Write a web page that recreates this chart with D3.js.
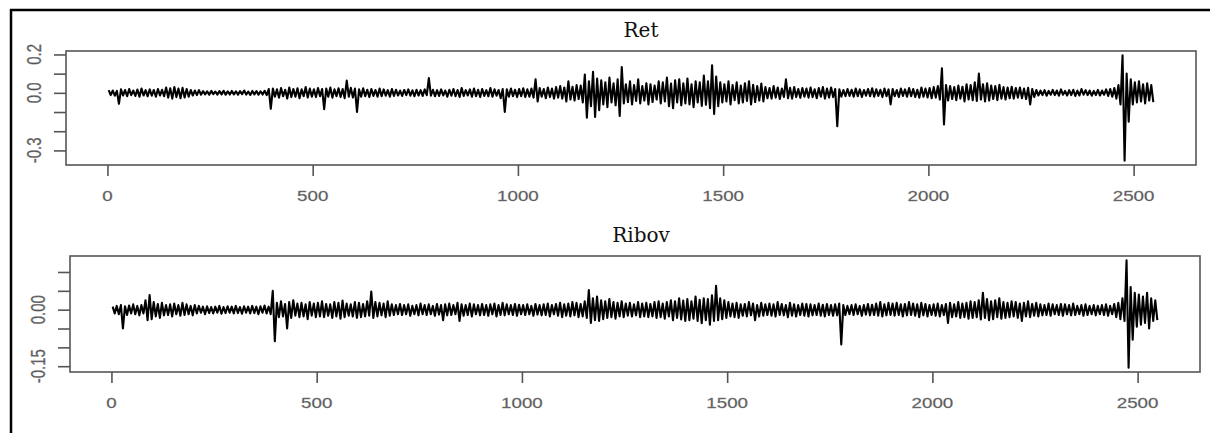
<!DOCTYPE html>
<html>
<head>
<meta charset="utf-8">
<script src="https://cdn.jsdelivr.net/npm/d3@7"></script>
<style>
  body { margin: 0; background: #fff; }
  svg { display: block; }
</style>
</head>
<body>
<div id="my_dataviz"></div>
<script>
var blockSize = 10;

var retHi = [
  14, 12, 10, 18, 15, 20, 12, 17, 22, 14,
  18, 15, 20, 16, 28, 24, 30, 22, 26, 20,
  15, 12, 14, 9, 8, 10, 7, 9, 11, 8,
  10, 8, 9, 12, 7, 10, 9, 8, 11, 20,
  22, 18, 25, 16, 28, 20, 24, 18, 30, 22,
  18, 25, 20, 22, 28, 18, 24, 20, 64, 26,
  22, 18, 24, 16, 20, 15, 22, 18, 14, 20,
  16, 12, 15, 18, 13, 16, 14, 18, 77, 16,
  14, 18, 12, 16, 20, 15, 25, 14, 18, 22,
  16, 20, 14, 25, 18, 15, 20, 18, 22, 16,
  20, 24, 18, 22, 70, 25, 20, 28, 22, 30,
  35, 28, 60, 32, 40, 38, 95, 60, 110, 75,
  65, 55, 80, 50, 70, 134, 45, 60, 40, 70,
  35, 50, 45, 38, 60, 55, 80, 48, 65, 70,
  50, 75, 45, 60, 55, 90, 60, 144, 85, 55,
  45, 60, 40, 55, 38, 50, 60, 42, 35, 48,
  30, 25, 35, 28, 22, 70, 26, 30, 20, 25,
  22, 28, 18, 25, 30, 22, 28, 20, 18, 15,
  20, 16, 22, 18, 15, 20, 24, 18, 16, 22,
  18, 20, 15, 22, 18, 25, 20, 16, 28, 22,
  25, 30, 35, 128, 40, 35, 30, 38, 32, 45,
  40, 55, 100, 45, 50, 38, 35, 42, 30, 28,
  32, 25, 28, 22, 26, 20, 15, 12, 14, 10,
  15, 12, 18, 10, 14, 16, 12, 20, 14, 12,
  10, 15, 12, 18, 20, 25, 40, 196, 100, 70,
  55, 60, 45, 50, 40
];
var retLo = [
  -12, -15, -57, -14, -18, -12, -16, -20, -14, -18,
  -15, -20, -14, -18, -25, -30, -22, -28, -24, -20,
  -14, -12, -10, -8, -10, -7, -9, -8, -10, -9,
  -8, -10, -7, -9, -11, -8, -10, -9, -12, -83,
  -20, -25, -18, -30, -22, -20, -28, -18, -24, -20,
  -22, -18, -85, -20, -25, -18, -22, -28, -20, -24,
  -100, -20, -18, -22, -16, -20, -18, -15, -20, -16,
  -14, -16, -12, -15, -18, -14, -16, -12, -15, -18,
  -16, -14, -20, -15, -18, -22, -16, -14, -20, -18,
  -22, -16, -18, -20, -15, -28, -100, -20, -18, -22,
  -18, -22, -20, -25, -45, -20, -28, -22, -30, -25,
  -30, -45, -35, -40, -32, -50, -130, -70, -125, -90,
  -60, -75, -50, -65, -120, -55, -48, -60, -42, -55,
  -40, -60, -48, -35, -55, -45, -70, -80, -50, -65,
  -55, -60, -75, -50, -68, -62, -80, -110, -70, -50,
  -45, -60, -38, -55, -50, -42, -60, -48, -40, -45,
  -28, -30, -25, -32, -22, -28, -30, -22, -26, -20,
  -25, -22, -28, -20, -30, -25, -22, -174, -20, -18,
  -16, -20, -18, -22, -15, -18, -20, -16, -22, -18,
  -60, -18, -22, -16, -20, -18, -22, -25, -20, -24,
  -28, -25, -35, -165, -40, -32, -38, -30, -45, -35,
  -38, -42, -35, -45, -40, -32, -38, -30, -35, -28,
  -30, -25, -28, -32, -60, -22, -14, -12, -15, -10,
  -12, -15, -10, -14, -12, -16, -14, -10, -12, -15,
  -12, -14, -10, -16, -20, -30, -60, -354, -150, -60,
  -50, -45, -55, -40, -48
];

var ribovHi = [
  8, 10, 12, 9, 11, 14, 10, 12, 25, 39,
  20, 15, 18, 12, 14, 16, 12, 18, 14, 10,
  12, 10, 8, 9, 7, 8, 10, 7, 9, 8,
  10, 7, 9, 8, 10, 8, 9, 11, 8, 50,
  18, 22, 15, 20, 25, 16, 18, 14, 20, 16,
  18, 22, 15, 14, 20, 18, 24, 16, 14, 20,
  18, 15, 22, 48, 20, 18, 16, 22, 14, 12,
  15, 12, 14, 10, 12, 16, 12, 14, 10, 15,
  12, 14, 16, 12, 18, 14, 12, 16, 14, 12,
  15, 12, 14, 16, 12, 18, 14, 12, 15, 13,
  12, 14, 10, 15, 12, 14, 16, 12, 15, 18,
  14, 16, 20, 18, 15, 22, 52, 30, 35, 25,
  22, 28, 20, 18, 22, 16, 18, 14, 20, 16,
  18, 15, 20, 22, 16, 20, 25, 22, 30, 24,
  28, 22, 35, 26, 30, 28, 38, 63, 30, 25,
  20, 16, 18, 14, 15, 20, 16, 12, 18, 14,
  16, 14, 20, 15, 12, 18, 14, 12, 16, 15,
  14, 12, 16, 13, 15, 12, 14, 16, 12, 10,
  12, 14, 10, 12, 15, 13, 16, 20, 14, 18,
  16, 18, 14, 15, 20, 16, 14, 18, 15, 12,
  14, 16, 12, 15, 18, 14, 20, 16, 18, 22,
  20, 25, 45, 28, 22, 25, 30, 20, 18, 22,
  20, 16, 18, 22, 15, 18, 14, 12, 16, 14,
  12, 15, 14, 12, 16, 10, 12, 14, 10, 12,
  10, 12, 14, 10, 15, 18, 30, 131, 60, 45,
  40, 35, 45, 30, 25
];
var ribovLo = [
  -10, -12, -50, -14, -10, -12, -15, -10, -28, -25,
  -18, -22, -15, -14, -18, -12, -16, -14, -12, -15,
  -10, -8, -12, -9, -10, -8, -11, -9, -8, -10,
  -9, -11, -8, -10, -9, -12, -8, -10, -12, -84,
  -20, -18, -50, -22, -16, -20, -18, -25, -16, -20,
  -18, -20, -16, -22, -18, -24, -20, -16, -18, -22,
  -20, -18, -16, -22, -18, -15, -20, -16, -14, -12,
  -14, -12, -16, -12, -15, -12, -14, -12, -16, -13,
  -28, -15, -14, -12, -30, -16, -14, -18, -12, -15,
  -14, -16, -12, -18, -14, -15, -12, -14, -16, -12,
  -14, -12, -16, -13, -15, -14, -18, -12, -16, -20,
  -16, -18, -15, -20, -18, -22, -35, -28, -30, -25,
  -22, -20, -24, -18, -20, -16, -18, -15, -20, -18,
  -20, -18, -22, -20, -24, -18, -28, -22, -26, -30,
  -28, -24, -30, -36, -28, -40, -30, -28, -25, -22,
  -18, -20, -22, -16, -18, -15, -28, -18, -16, -14,
  -16, -18, -14, -15, -20, -16, -18, -14, -16, -18,
  -15, -14, -16, -18, -14, -16, -15, -92, -14, -12,
  -14, -12, -16, -13, -15, -14, -16, -18, -15, -14,
  -16, -14, -18, -15, -14, -16, -20, -15, -18, -14,
  -16, -18, -14, -35, -20, -18, -22, -20, -24, -22,
  -20, -26, -22, -28, -25, -20, -24, -22, -20, -18,
  -22, -30, -18, -20, -16, -18, -15, -14, -16, -12,
  -14, -16, -12, -15, -14, -12, -16, -14, -12, -15,
  -12, -14, -16, -12, -20, -25, -30, -154, -80, -45,
  -40, -35, -50, -30, -28
];

var nObs = 2550;

// tick values and labels
var xTicks = [0, 500, 1000, 1500, 2000, 2500];
var xLabels = ["0", "500", "1000", "1500", "2000", "2500"];
var retYTicks = [-0.3, -0.2, -0.1, 0, 0.1, 0.2];
var retYLabels = ["-0.3", "", "", "0.0", "", "0.2"];
var ribovYTicks = [-0.15, -0.10, -0.05, 0, 0.05, 0.10];
var ribovYLabels = ["-0.15", "", "", "0.00", "", ""];

var W = 1210, H = 433;

var svg = d3.select("#my_dataviz")
    .append("svg")
    .attr("width", W)
    .attr("height", H);

// page frame around the figure
svg.append("line").attr("x1", 10).attr("x2", W).attr("y1", 10).attr("y2", 10)
    .attr("stroke", "#000").attr("stroke-width", 2.5);
svg.append("line").attr("x1", 11).attr("x2", 11).attr("y1", 9).attr("y2", H)
    .attr("stroke", "#000").attr("stroke-width", 2.5);

function buildSeries(hi, lo) {
    var pts = [];
    hi.forEach(function (h, i) {
        pts.push({ t: i * blockSize + 3, v: h / 1000 });
        pts.push({ t: i * blockSize + 8, v: lo[i] / 1000 });
    });
    return pts;
}

function drawPanel(p) {
    var data = buildSeries(p.hi, p.lo);

    // R style 4% padding on both axes
    var xPad = 0.04 * (nObs - 1);
    var x = d3.scaleLinear()
        .domain([1 - xPad, nObs + xPad])
        .range([p.left, p.right]);

    var ext = d3.extent(data, function (d) { return d.v; });
    var yPad = 0.04 * (ext[1] - ext[0]);
    var y = d3.scaleLinear()
        .domain([ext[0] - yPad, ext[1] + yPad])
        .range([p.bottom, p.top]);

    var g = svg.append("g");

    // series
    g.append("path")
        .datum(data)
        .attr("fill", "none")
        .attr("stroke", "#000")
        .attr("stroke-width", 2.1)
        .attr("stroke-linejoin", "round")
        .attr("d", d3.line()
            .x(function (d) { return x(d.t); })
            .y(function (d) { return y(d.v); })
        );

    // box
    g.append("rect")
        .attr("x", p.left).attr("y", p.top)
        .attr("width", p.right - p.left).attr("height", p.bottom - p.top)
        .attr("fill", "none").attr("stroke", "#555").attr("stroke-width", 1.6);

    // X axis
    var gx = g.append("g")
        .attr("transform", "translate(0," + p.bottom + ")")
        .call(d3.axisBottom(x).tickValues(xTicks).tickSize(11).tickSizeOuter(0).tickFormat(""));
    gx.select(".domain").remove();
    gx.selectAll("line").attr("stroke", "#555").attr("stroke-width", 1.6);

    g.selectAll(null)
        .data(xTicks)
        .enter()
        .append("text")
        .attr("transform", function (d) { return "translate(" + x(d) + "," + (p.bottom + 36) + ") scale(1.25,1)"; })
        .attr("text-anchor", "middle")
        .style("font-family", "'Liberation Sans', Arial, sans-serif")
        .style("font-size", "15px")
        .style("fill", "#555")
        .style("stroke", "#888")
        .style("stroke-width", 0.3)
        .text(function (d, i) { return xLabels[i]; });

    // Y axis
    var gy = g.append("g")
        .attr("transform", "translate(" + p.left + ",0)")
        .call(d3.axisLeft(y).tickValues(p.yTicks).tickSize(12).tickSizeOuter(0).tickFormat(""));
    gy.select(".domain").remove();
    gy.selectAll("line").attr("stroke", "#555").attr("stroke-width", 1.6);

    g.selectAll(null)
        .data(p.yTicks)
        .enter()
        .append("text")
        .attr("transform", function (d) { return "translate(" + (p.left - 25) + "," + y(d) + ") scale(1.3,1) rotate(-90)"; })
        .attr("text-anchor", "middle")
        .style("font-family", "'Liberation Sans', Arial, sans-serif")
        .style("font-size", "15px")
        .style("fill", "#555")
        .style("stroke", "#888")
        .style("stroke-width", 0.3)
        .text(function (d, i) { return p.yLabels[i]; });

    // title
    g.append("text")
        .attr("x", 641)
        .attr("y", p.top - 14)
        .attr("text-anchor", "middle")
        .style("font-family", "'DejaVu Serif', serif")
        .style("font-size", "20px")
        .style("fill", "#111")
        .text(p.title);
}

drawPanel({ title: "Ret", hi: retHi, lo: retLo, left: 66, right: 1196, top: 51, bottom: 165,
    yTicks: retYTicks, yLabels: retYLabels });
drawPanel({ title: "Ribov", hi: ribovHi, lo: ribovLo, left: 70, right: 1200, top: 256, bottom: 372,
    yTicks: ribovYTicks, yLabels: ribovYLabels });
</script>
</body>
</html>
